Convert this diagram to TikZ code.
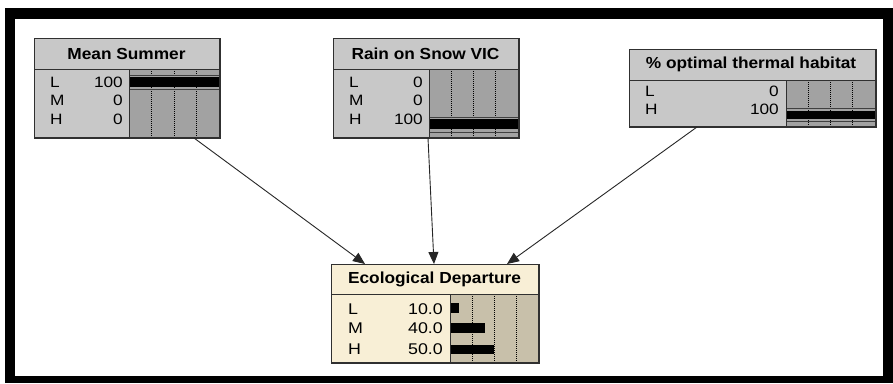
\documentclass[tikz,border=0pt]{standalone}
\usepackage{fontspec}
\setmainfont{Liberation Sans}
\newfontfamily\ttlfont{Liberation Sans}[FakeStretch=1.08]
\newfontfamily\rowfont{Liberation Sans}[FakeStretch=1.15]
\usetikzlibrary{arrows.meta,calc}
\definecolor{greyL}{HTML}{C8C8C8}
\definecolor{greyD}{HTML}{A2A2A2}
\definecolor{creamL}{HTML}{F8EFD6}
\definecolor{tanD}{HTML}{C8C0AA}
\definecolor{edge}{HTML}{303030}
\tikzset{
  bnbox/.style={draw=edge, line width=1pt, inner sep=0pt, anchor=north west},
  ttl/.style={inner sep=0pt, font=\ttlfont\bfseries\fontsize{16}{17}\selectfont},
  lbl/.style={inner sep=0pt, font=\rowfont\fontsize{15}{16}\selectfont},
  lblbig/.style={inner sep=0pt, font=\rowfont\fontsize{15.5}{16}\selectfont},
  sep/.style={draw=edge, line width=1pt},
  dotln/.style={draw=black, line width=1pt, dash pattern=on 1pt off 1pt},
  trk/.style={draw=black!75, line width=1pt},
  arr/.style={draw=black!85, line width=0.9pt, -{Triangle[length=12pt,width=10pt]}}
}
\begin{document}
\begin{tikzpicture}[x=1pt,y=-1pt]
\useasboundingbox (0,0) rectangle (893,383);
\fill[white] (0,0) rectangle (893,383);
\fill[black] (5,8) rectangle (893,383);
\fill[white] (15,19) rectangle (883,376);

% ---------- Mean Summer ----------
\node[bnbox, fill=greyL, minimum width=185pt, minimum height=99pt] (ms) at (34,38) {};
\fill[greyD] (129,69) rectangle (219,137);
\foreach \x in {151.5,174,196.5} \draw[dotln] (\x,69) -- (\x,137);
\draw[trk] (129,75) -- (219,75);
\draw[trk] (129,89) -- (219,89);
\fill[black] (129,77) rectangle (219,87);
\draw[sep] (34,69) -- (219,69);
\draw[sep] (129,69) -- (129,137);
\draw[draw=edge, line width=1pt] (ms.north west) rectangle (ms.south east);
\node[ttl] (mst) at (126.5,53.5) {Mean Summer};
\node[lbl, anchor=base west] (msl1) at (50,87) {L};
\node[lbl, anchor=base west] (msl2) at (50,105.5) {M};
\node[lbl, anchor=base west] (msl3) at (50,124) {H};
\node[lbl, anchor=base east] (msv1) at (123,87) {100};
\node[lbl, anchor=base east] (msv2) at (123,105.5) {0};
\node[lbl, anchor=base east] (msv3) at (123,124) {0};

% ---------- Rain on Snow VIC ----------
\node[bnbox, fill=greyL, minimum width=185pt, minimum height=99pt] (rs) at (333,38) {};
\fill[greyD] (429,69) rectangle (518,137);
\foreach \x in {451.25,473.5,495.75} \draw[dotln] (\x,69) -- (\x,137);
\draw[trk] (429,117) -- (518,117);
\draw[trk] (429,132) -- (518,132);
\fill[black] (429,119) rectangle (518,129);
\draw[sep] (333,69) -- (518,69);
\draw[sep] (429,69) -- (429,137);
\draw[draw=edge, line width=1pt] (rs.north west) rectangle (rs.south east);
\node[ttl] (rst) at (425.5,53.5) {Rain on Snow VIC};
\node[lbl, anchor=base west] (rsl1) at (349,87) {L};
\node[lbl, anchor=base west] (rsl2) at (349,105.5) {M};
\node[lbl, anchor=base west] (rsl3) at (349,124) {H};
\node[lbl, anchor=base east] (rsv1) at (423,87) {0};
\node[lbl, anchor=base east] (rsv2) at (423,105.5) {0};
\node[lbl, anchor=base east] (rsv3) at (423,124) {100};

% ---------- % optimal thermal habitat ----------
\node[bnbox, fill=greyL, minimum width=246pt, minimum height=77pt] (ot) at (629,49) {};
\fill[greyD] (786,80) rectangle (875,126);
\foreach \x in {808.25,830.5,852.75} \draw[dotln] (\x,80) -- (\x,126);
\draw[trk] (786,108) -- (875,108);
\draw[trk] (786,121.5) -- (875,121.5);
\fill[black] (786,111) rectangle (875,118.5);
\draw[sep] (629,80) -- (875,80);
\draw[sep] (786,80) -- (786,126);
\draw[draw=edge, line width=1pt] (ot.north west) rectangle (ot.south east);
\node[ttl] (ott) at (751,64.5) {\% optimal thermal habitat};
\node[lbl, anchor=base west] (otl1) at (645,96.5) {L};
\node[lbl, anchor=base west] (otl2) at (645,114.5) {H};
\node[lbl, anchor=base east] (otv1) at (779,96.5) {0};
\node[lbl, anchor=base east] (otv2) at (779,114.5) {100};

% ---------- Ecological Departure ----------
\node[bnbox, fill=creamL, minimum width=207pt, minimum height=98pt] (ed) at (331,264) {};
\fill[tanD] (450,294) rectangle (538,362);
\foreach \x in {472,494,516} \draw[dotln] (\x,294) -- (\x,362);
\fill[black] (450,303) rectangle (458.8,313);
\fill[black] (450,323) rectangle (485.2,333);
\fill[black] (450,345) rectangle (494,354);
\draw[sep] (331,294) -- (538,294);
\draw[sep] (450,294) -- (450,362);
\draw[draw=edge, line width=1pt] (ed.north west) rectangle (ed.south east);
\node[ttl] (edt) at (434.5,279) {Ecological Departure};
\node[lblbig, anchor=base west] (edl1) at (348,314) {L};
\node[lblbig, anchor=base west] (edl2) at (348,333.5) {M};
\node[lblbig, anchor=base west] (edl3) at (348,354) {H};
\node[lblbig, anchor=base east] (edv1) at (443,314) {10.0};
\node[lblbig, anchor=base east] (edv2) at (443,333.5) {40.0};
\node[lblbig, anchor=base east] (edv3) at (443,354) {50.0};

% ---------- Arrows ----------
\draw[arr] ([xshift=160pt]ms.south west) -- ([xshift=34pt]ed.north west);
\draw[arr] ([xshift=95pt]rs.south west) -- ([xshift=103pt]ed.north west);
\draw[arr] ([xshift=68pt]ot.south west) -- ([xshift=176pt]ed.north west);
\end{tikzpicture}
\end{document}
